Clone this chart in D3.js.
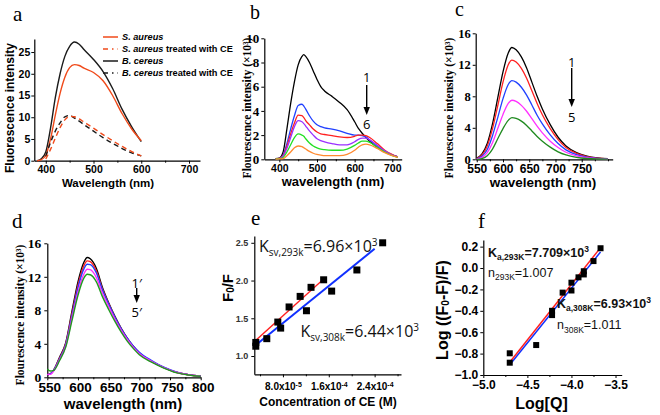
<!DOCTYPE html>
<html><head><meta charset="utf-8">
<script src="https://cdn.jsdelivr.net/npm/d3@7"></script>
<style>
body{margin:0;background:#fff;}
svg{display:block;}
</style></head><body>
<svg id="chart" width="660" height="415"></svg>
<script>
// ---------------- DATA ----------------
// Panel a
const aWavelength = [382,390,400,410,420,430,440,450,460,470,480,500,520,540,560,580,600];
const aSAureus   = [0,0.2,1.2,5.0,10.5,15.5,19.2,21.4,22.1,21.9,21.3,20.3,18.4,15.0,10.8,7.3,4.6];
const aSAureusCE = [null,null,0.4,2.6,5.2,7.6,9.4,10.2,10.1,9.6,8.9,7.5,6.0,4.6,3.3,2.1,1.1];
const aBCereus   = [0,0.4,2.0,7.5,14.5,20.0,24.0,26.3,27.3,26.8,25.6,23.3,20.5,16.6,11.8,7.8,4.4];
const aBCereusCE = [null,null,1.0,4.2,6.8,8.7,10.1,10.4,9.8,9.1,8.3,6.8,5.3,4.0,2.8,1.8,1.1];
const aLegendItalic = ["S. aureus","S. aureus","B. cereus","B. cereus"];
const aLegendRest = [""," treated with CE",""," treated with CE"];
const aXTicks = [400,500,600,700];
const aYTicks = [0,5,10,15,20,25];

// Panel b
const bWavelength = [390,400,410,420,430,440,450,460,465,470,480,490,500,510,520,540,560,580,600,610,620,630,640,660,680,700,715];
const bCurve1 = [0.05,0.1,0.6,2.5,4.6,6.4,7.8,8.5,8.65,8.5,8.0,7.3,6.6,6.0,5.65,5.2,4.7,4.1,3.1,2.55,2.15,1.8,1.5,1.0,0.6,0.35,0.2];
const bCurve2 = [0.05,0.08,0.35,1.3,2.5,3.6,4.45,4.55,4.4,4.15,3.6,3.15,2.85,2.7,2.6,2.5,2.35,2.15,2.0,2.0,1.95,1.85,1.6,1.1,0.65,0.35,0.2];
const bCurve3 = [0.05,0.08,0.3,1.1,2.1,3.0,3.65,3.6,3.45,3.2,2.85,2.5,2.25,2.1,2.05,1.95,1.85,1.8,1.9,2.0,2.0,1.95,1.8,1.3,0.75,0.4,0.2];
const bCurve4 = [0.04,0.06,0.25,0.9,1.8,2.7,3.2,3.1,2.95,2.75,2.35,2.0,1.7,1.55,1.45,1.3,1.2,1.2,1.45,1.65,1.75,1.75,1.6,1.15,0.7,0.35,0.2];
const bCurve5 = [0.03,0.05,0.15,0.6,1.2,1.8,2.1,2.0,1.9,1.7,1.35,1.1,0.95,0.85,0.8,0.75,0.75,0.85,1.15,1.35,1.5,1.5,1.4,1.0,0.6,0.3,0.15];
const bCurve6 = [0.02,0.03,0.05,0.3,0.6,0.95,1.1,1.05,0.95,0.85,0.65,0.5,0.4,0.35,0.3,0.3,0.3,0.4,0.75,1.0,1.2,1.25,1.2,0.9,0.55,0.3,0.15];
const bXTicks = [400,500,600,700];
const bYTicks = [0,2,4,6,8,10];

// Panel c
const cWavelength = [550,560,570,580,590,600,610,617,625,635,645,655,665,675,690,705,720,740,760,780,800];
const cCurve1 = [0.15,0.7,2.0,4.5,7.8,11.1,13.5,14.2,13.9,13.0,11.6,9.8,8.0,6.4,4.4,2.8,1.7,0.85,0.4,0.17,0.07];
const cCurve2 = [0.1,0.55,1.7,3.9,6.8,9.8,12.0,12.6,12.35,11.55,10.3,8.7,7.1,5.65,3.9,2.5,1.5,0.75,0.35,0.15,0.06];
const cCurve3 = [0.07,0.4,1.25,3.0,5.3,7.7,9.5,10.0,9.8,9.15,8.15,6.9,5.6,4.5,3.1,2.0,1.2,0.6,0.28,0.12,0.05];
const cCurve4 = [0.04,0.25,0.85,2.1,3.9,5.7,7.1,7.5,7.35,6.85,6.1,5.15,4.2,3.35,2.3,1.5,0.9,0.45,0.2,0.09,0.04];
const cCurve5 = [0.0,0.1,0.45,1.3,2.6,3.9,4.95,5.3,5.2,4.85,4.3,3.6,2.9,2.3,1.55,0.95,0.55,0.25,0.1,0.04,0.02];
const cXTicks = [550,600,650,700,750];
const cYTicks = [0,4,8,12,16];

// Panel d
const dWavelength = [550,555,560,570,580,590,600,610,615,620,630,640,650,660,670,680,690,700,720,740,760,780,800];
const dCurve1 = [0.3,0.4,0.8,2.4,4.1,7.8,11.4,13.8,14.3,14.15,13.0,10.7,8.9,7.3,5.9,4.7,3.7,2.9,1.9,1.15,0.6,0.3,0.15];
const dCurve2 = [0.3,0.4,0.8,2.3,4.0,7.5,11.0,13.4,13.9,13.8,12.7,10.5,8.8,7.2,5.85,4.65,3.7,2.9,1.9,1.15,0.6,0.3,0.15];
const dCurve3 = [0.3,0.4,0.8,2.2,3.9,7.3,10.7,13.0,13.5,13.45,12.45,10.4,8.75,7.2,5.85,4.7,3.75,3.0,2.0,1.2,0.65,0.32,0.15];
const dCurve4 = [0.35,0.35,0.7,2.1,3.7,7.0,10.2,12.4,12.9,12.85,11.9,10.0,8.45,6.95,5.65,4.55,3.6,2.85,1.9,1.15,0.6,0.3,0.15];
const dCurve5 = [1.0,0.75,0.8,2.0,3.6,6.7,9.8,11.9,12.3,12.25,11.4,9.6,8.1,6.7,5.45,4.35,3.45,2.7,1.8,1.1,0.55,0.28,0.12];
const dXTicks = [550,600,650,700,750,800];
const dYTicks = [0,4,8,12,16];

// Panel e
const e293X = [3.26e-5,7.1e-5,9.07e-5,1.1e-4,1.29e-4,1.51e-4];
const e293Y = [1.18,1.45,1.65,1.79,1.91,2.01];
const e308X = [3.26e-5,5.18e-5,7.6e-5,1.21e-4,1.65e-4,2.09e-4,2.54e-4];
const e308Y = [1.13,1.23,1.37,1.60,1.86,2.14,2.50];
const e293FitX = [3.0e-5,1.51e-4];
const e293FitY = [1.19,2.02];
const e308FitX = [3.0e-5,2.4e-4];
const e308FitY = [1.13,2.42];
const eXTicks = [8e-5,1.6e-4,2.4e-4];
const eXTickMant = ["8.0x10","1.6x10","2.4x10"];
const eXTickExp = ["-5","-4","-4"];
const eYTicks = [1.0,1.5,2.0,2.5];

// Panel f
const f293X = [-4.70,-4.22,-4.10,-4.00,-3.92,-3.86,-3.67];
const f293Y = [-0.885,-0.40,-0.23,-0.137,-0.087,-0.03,0.185];
const f308X = [-4.70,-4.40,-4.22,-4.00,-3.86,-3.75];
const f308Y = [-0.797,-0.72,-0.44,-0.21,-0.06,0.065];
const f293FitX = [-4.70,-3.69];
const f293FitY = [-0.88,0.17];
const f308FitX = [-4.69,-3.67];
const f308FitY = [-0.895,0.15];
const fXTicks = [-5.0,-4.5,-4.0,-3.5];
const fYTicks = [-1.0,-0.8,-0.6,-0.4,-0.2,0.0,0.2];

// ---------------- DRAW ----------------
const SANS = "'Liberation Sans', Arial, sans-serif";
const SERIF = "'Liberation Serif', 'Times New Roman', serif";
const OPEN = "'Open Sans', 'Liberation Sans', sans-serif";
const svg = d3.select("#chart");

function drawAxes(x, y, o) {
  const g = svg.append("g");
  const y0 = y.range()[0], x0 = x.range()[0];
  const xa = d3.axisBottom(x).tickValues(o.xTicks).tickSize(3).tickSizeOuter(0).tickPadding(o.xPad);
  if (o.xFmt) xa.tickFormat(o.xFmt);
  const gx = g.append("g").attr("transform", `translate(0,${y0})`).call(xa);
  gx.selectAll("text").attr("font-family", o.xFont).attr("font-size", o.xSize).attr("font-weight", "bold").attr("fill", o.xColor || "#000");
  if (o.xShift) gx.selectAll("text").attr("dx", o.xShift);
  if (o.xMinor) {
    g.append("g").attr("transform", `translate(0,${y0})`)
      .call(d3.axisBottom(x).tickValues(o.xMinor).tickSize(2).tickFormat(""))
      .select(".domain").remove();
  }
  const ya = d3.axisLeft(y).tickValues(o.yTicks).tickSize(3).tickSizeOuter(0).tickPadding(o.yPad);
  if (o.yFmt) ya.tickFormat(o.yFmt);
  const gy = g.append("g").attr("transform", `translate(${x0},0)`).call(ya);
  gy.selectAll("text").attr("font-family", o.yFont).attr("font-size", o.ySize).attr("font-weight", "bold").attr("fill", o.yColor || "#000");
  g.selectAll(".domain").attr("stroke", "#000").attr("stroke-width", 1.2);
  g.selectAll(".tick line").attr("stroke", "#000");
  return {gx, gy};
}

function curve(x, y, xs, ys, color, width, dash) {
  const pts = xs.map((v, i) => [v, ys[i]]);
  const line = d3.line().defined(d => d[1] !== null).x(d => x(d[0])).y(d => y(d[1])).curve(d3.curveMonotoneX);
  const p = svg.append("path").attr("d", line(pts)).attr("fill", "none").attr("stroke", color).attr("stroke-width", width).attr("stroke-linejoin", "round");
  if (dash) p.attr("stroke-dasharray", dash);
  return p;
}

function straight(x, y, xs, ys, color, width) {
  const pts = xs.map((v, i) => [v, ys[i]]);
  svg.append("path").attr("d", d3.line().x(d => x(d[0])).y(d => y(d[1]))(pts))
    .attr("fill", "none").attr("stroke", color).attr("stroke-width", width);
}

function squares(x, y, xs, ys, s) {
  svg.append("g").selectAll("rect").data(xs.map((v, i) => [v, ys[i]])).join("rect")
    .attr("x", d => x(d[0]) - s / 2).attr("y", d => y(d[1]) - s / 2)
    .attr("width", s).attr("height", s).attr("fill", "#000");
}

function label(t, px, py, size) {
  svg.append("text").attr("x", px).attr("y", py).text(t)
    .attr("font-family", SERIF).attr("font-size", size || 21).attr("fill", "#000");
}

function yTitle(cx, cy, font, size, parts) {
  const t = svg.append("text").attr("transform", `translate(${cx},${cy}) rotate(-90)`)
    .attr("text-anchor", "middle").attr("font-family", font).attr("font-size", size)
    .attr("font-weight", "bold").attr("fill", "#000").attr("dominant-baseline", "central");
  parts.forEach(p => {
    const ts = t.append("tspan").text(p[0]);
    if (p[1]) ts.attr("font-size", size * 0.65).attr("dy", p[1]);
  });
  return t;
}

function xTitle(cx, cy, font, size, txt) {
  svg.append("text").attr("x", cx).attr("y", cy).attr("text-anchor", "middle")
    .attr("font-family", font).attr("font-size", size).attr("font-weight", "bold").attr("fill", "#000").text(txt);
}

function arrow(px, yTop, yTip, n1, n2, yN1, yN2) {
  svg.append("line").attr("x1", px).attr("x2", px).attr("y1", yTop).attr("y2", yTip - 5)
    .attr("stroke", "#000").attr("stroke-width", 1.4);
  svg.append("path").attr("d", `M${px - 3.2},${yTip - 8} L${px + 3.2},${yTip - 8} L${px},${yTip} Z`).attr("fill", "#000");
  svg.append("text").attr("x", px).attr("y", yN1).attr("text-anchor", "middle").attr("dominant-baseline", "central")
    .attr("font-family", OPEN).attr("font-size", 13).text(n1);
  svg.append("text").attr("x", px).attr("y", yN2).attr("text-anchor", "middle").attr("dominant-baseline", "central")
    .attr("font-family", OPEN).attr("font-size", 13).text(n2);
}

// ===== Panel a =====
{
  const x = d3.scaleLinear().domain([376, 723]).range([34.3, 200]);
  const y = d3.scaleLinear().domain([0, 28]).range([160.7, 39]);
  drawAxes(x, y, {xTicks: aXTicks, xMinor: [450,550,650], xFont: SANS, xSize: 10.5, xPad: 2,
                  yTicks: aYTicks, yFont: SANS, ySize: 10.5, yPad: 1});
  curve(x, y, aWavelength, aBCereus, "#1a1a1a", 1.4);
  curve(x, y, aWavelength, aSAureus, "#f04a1a", 1.4);
  curve(x, y, aWavelength, aBCereusCE, "#1a1a1a", 1.4, "5,3.5");
  curve(x, y, aWavelength, aSAureusCE, "#f04a1a", 1.4, "5,3.5");
  const colors = ["#f04a1a","#f04a1a","#1a1a1a","#1a1a1a"];
  const dashes = [null,"5,4,1.5,4",null,"5,4,1.5,4"];
  aLegendItalic.forEach((s, i) => {
    const ly = 37 + i * 12;
    const l = svg.append("line").attr("x1", 103).attr("x2", 118).attr("y1", ly).attr("y2", ly)
      .attr("stroke", colors[i]).attr("stroke-width", 1.5);
    if (dashes[i]) l.attr("stroke-dasharray", dashes[i]);
    const t = svg.append("text").attr("x", 122).attr("y", ly + 3.3).attr("font-family", SANS)
      .attr("font-size", 9.2).attr("font-weight", "bold").attr("fill", "#000");
    t.append("tspan").attr("font-style", "italic").text(s);
    t.append("tspan").text(aLegendRest[i]);
  });
  yTitle(10, 108, SANS, 12, [["Fluorescence intensity"]]);
  xTitle(108, 187, SANS, 11.5, "Wavelength (nm)");
  label("a", 13, 21);
}

// ===== Panel b =====
{
  const x = d3.scaleLinear().domain([360, 725]).range([264.3, 401.7]);
  const y = d3.scaleLinear().domain([0, 10]).range([159.3, 38.3]);
  drawAxes(x, y, {xTicks: bXTicks, xMinor: [450,550,650], xFont: SANS, xSize: 10.5, xPad: 2,
                  yTicks: bYTicks, yFont: SERIF, ySize: 13, yPad: 2});
  const cols = ["#000000","#2040ff","#ff2020","#9b30ff","#22e022","#ff8a30"];
  [bCurve1,bCurve2,bCurve3,bCurve4,bCurve5,bCurve6].forEach((c, i) => curve(x, y, bWavelength, c, cols[i], 1.3));
  yTitle(246.5, 108, SERIF, 11.5, [["Flourescence intensity (×10³)"]]);
  xTitle(333, 186, SANS, 13, "wavelength (nm)");
  label("b", 250, 19, 20);
  arrow(366.7, 85, 115, "1", "6", 76.5, 124);
}

// ===== Panel c =====
{
  const x = d3.scaleLinear().domain([548, 809]).range([475.7, 612.7]);
  const y = d3.scaleLinear().domain([0, 16]).range([159.3, 33.3]);
  drawAxes(x, y, {xTicks: cXTicks, xMinor: [575,625,675,725,775,800], xFont: SANS, xSize: 12, xPad: 2,
                  yTicks: cYTicks, yFont: SERIF, ySize: 12.5, yPad: 2});
  const cols = ["#000000","#ff2020","#2040ff","#ff30ff","#1f8a1f"];
  [cCurve1,cCurve2,cCurve3,cCurve4,cCurve5].forEach((c, i) => curve(x, y, cWavelength, c, cols[i], 1.3));
  yTitle(448.5, 108, SERIF, 11.5, [["Flourescence intensity (×10³)"]]);
  xTitle(543, 187, SANS, 13.5, "wavelength (nm)");
  label("c", 455, 15.5, 20);
  arrow(571.7, 68, 107, "1", "5", 61.5, 116.5);
}

// ===== Panel d =====
{
  const x = d3.scaleLinear().domain([550, 800]).range([47.3, 200.7]);
  const y = d3.scaleLinear().domain([0, 16]).range([377.3, 243.3]);
  drawAxes(x, y, {xTicks: dXTicks, xMinor: [575,625,675,725,775], xFont: SANS, xSize: 13.5, xPad: 2, xShift: 2,
                  yTicks: dYTicks, yFont: SERIF, ySize: 13.5, yPad: 3});
  const cols = ["#000000","#ff2020","#2040ff","#ff30ff","#1f9a1f"];
  [dCurve1,dCurve2,dCurve3,dCurve4,dCurve5].forEach((c, i) => curve(x, y, dWavelength, c, cols[i], 1.4));
  yTitle(20, 315, SERIF, 11.5, [["Flourescence intensity (×10³)"]]);
  xTitle(123, 409, SANS, 15, "wavelength (nm)");
  label("d", 12, 228);
  arrow(136.7, 288, 303, "1′", "5′", 282.5, 311.5);
}

// ===== Panel e =====
{
  const x = d3.scaleLinear().domain([3.0e-5, 2.86e-4]).range([254.3, 401]);
  const y = d3.scaleLinear().domain([0.758, 2.59]).range([374.3, 236]);
  const ax = drawAxes(x, y, {xTicks: eXTicks, xMinor: [4e-5,1.2e-4,2.0e-4,2.8e-4], xFont: SANS, xSize: 10, xPad: 6,
                  yTicks: eYTicks, yFont: SANS, ySize: 9, yPad: 3, yColor: "#333", yFmt: d3.format(".1f")});
  ax.gx.selectAll(".tick text").each(function(d, i) {
    const t = d3.select(this).text(null);
    t.append("tspan").text(eXTickMant[i]);
    t.append("tspan").attr("font-size", 7).attr("dy", "-0.5em").text(eXTickExp[i]);
  });
  straight(x, y, e293FitX, e293FitY, "#ff2020", 1.3);
  straight(x, y, e308FitX, e308FitY, "#1030ff", 2);
  squares(x, y, e293X, e293Y, 7);
  squares(x, y, e308X, e308Y, 7);
  const t1 = svg.append("text").attr("x", 259).attr("y", 252).attr("font-family", OPEN).attr("font-size", 16).attr("fill", "#111");
  t1.append("tspan").text("K");
  t1.append("tspan").attr("font-size", 10).attr("dy", 4).text("sv,293k");
  t1.append("tspan").attr("dy", -4).text("=6.96×10");
  t1.append("tspan").attr("font-size", 10).attr("dy", -6).text("3");
  const t2 = svg.append("text").attr("x", 300.5).attr("y", 337).attr("font-family", OPEN).attr("font-size", 16).attr("fill", "#111");
  t2.append("tspan").text("K");
  t2.append("tspan").attr("font-size", 10).attr("dy", 4).text("sv,308k");
  t2.append("tspan").attr("dy", -4).text("=6.44×10");
  t2.append("tspan").attr("font-size", 10).attr("dy", -6).text("3");
  const yt = svg.append("text").attr("transform", "translate(226.5,288) rotate(-90)").attr("text-anchor", "middle")
    .attr("dominant-baseline", "central").attr("font-family", SANS).attr("font-size", 15).attr("font-weight", "bold");
  yt.append("tspan").text("F");
  yt.append("tspan").attr("font-size", 10).attr("dy", 3).text("0");
  yt.append("tspan").attr("dy", -3).text("/F");
  xTitle(328, 406, SANS, 12, "Concentration of CE (M)");
  label("e", 251, 225);
}

// ===== Panel f =====
{
  const x = d3.scaleLinear().domain([-5.0, -3.43]).range([483.3, 621.7]);
  const y = d3.scaleLinear().domain([-1.0, 0.262]).range([375, 240]);
  drawAxes(x, y, {xTicks: fXTicks, xMinor: [-4.75,-4.25,-3.75], xFont: SANS, xSize: 12, xPad: 2, xFmt: d3.format(".1f"),
                  yTicks: fYTicks, yFont: SANS, ySize: 12, yPad: 2, yFmt: d3.format(".1f")});
  straight(x, y, f308FitX, f308FitY, "#1030ff", 1.5);
  straight(x, y, f293FitX, f293FitY, "#ff2020", 1.5);
  squares(x, y, f293X, f293Y, 6);
  squares(x, y, f308X, f308Y, 6);
  function ann(px, py, main, sub, rest, sup, size, weight) {
    const t = svg.append("text").attr("x", px).attr("y", py).attr("font-family", SANS).attr("font-size", size)
      .attr("font-weight", weight).attr("fill", "#111");
    t.append("tspan").text(main);
    t.append("tspan").attr("font-size", size * 0.68).attr("dy", 3.5).text(sub);
    t.append("tspan").attr("dy", -3.5).text(rest);
    if (sup) t.append("tspan").attr("font-size", size * 0.68).attr("dy", -5).text(sup);
  }
  ann(488, 256.5, "K", "a,293K", "=7.709×10", "3", 12.5, "bold");
  ann(488, 276.5, "n", "293K", "=1.007", null, 12.5, "normal");
  ann(557, 307.5, "K", "a,308K", "=6.93×10", "3", 12.5, "bold");
  ann(557, 329, "n", "308K", "=1.011", null, 12.5, "normal");
  const yt = svg.append("text").attr("transform", "translate(441.5,310) rotate(-90)").attr("text-anchor", "middle")
    .attr("dominant-baseline", "central").attr("font-family", SANS).attr("font-size", 16).attr("font-weight", "bold");
  yt.append("tspan").text("Log ((F");
  yt.append("tspan").attr("font-size", 10).attr("dy", 3).text("0");
  yt.append("tspan").attr("dy", -3).text("-F)/F)");
  xTitle(541.5, 409, SANS, 16, "Log[Q]");
  label("f", 478, 228);
}
</script>
</body></html>
